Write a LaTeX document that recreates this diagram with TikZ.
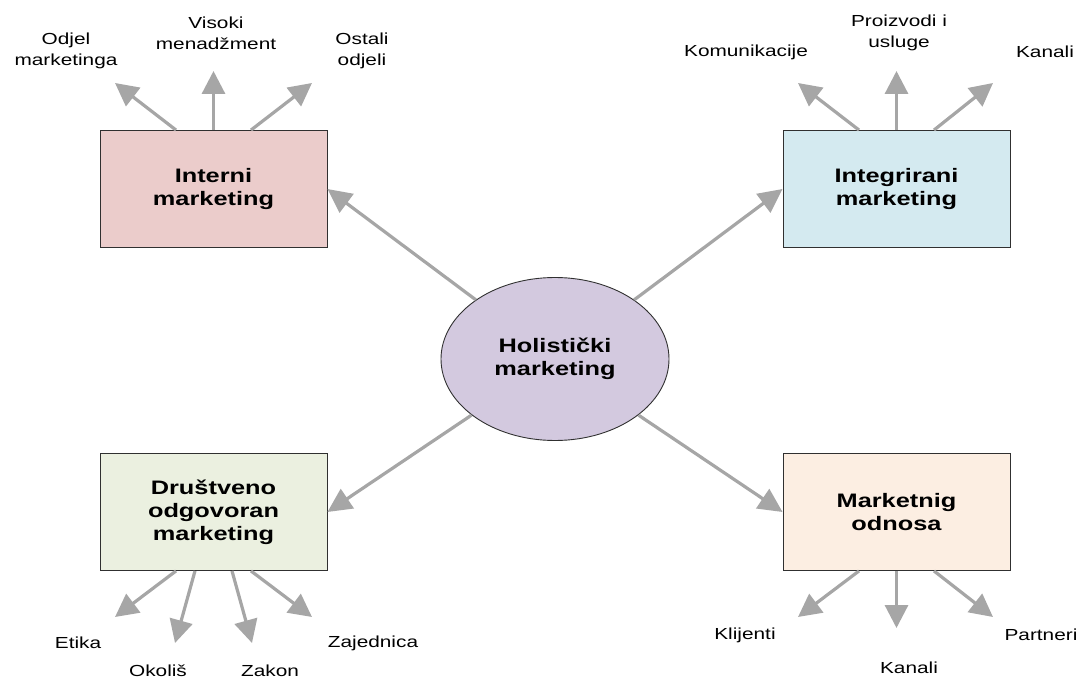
\documentclass[tikz,border=0pt]{standalone}
\usepackage{fontspec}
\setmainfont{Liberation Sans}[FakeStretch=1.3]
\usetikzlibrary{shapes.geometric,arrows.meta}
\definecolor{pinkf}{HTML}{EBCCCB}
\definecolor{bluef}{HTML}{D4EAF0}
\definecolor{greenf}{HTML}{EBF0E0}
\definecolor{peachf}{HTML}{FCEEE2}
\definecolor{purplef}{HTML}{D3C9DF}
\definecolor{arrgray}{HTML}{A6A6A6}
\definecolor{edgegray}{HTML}{303030}
\tikzset{
  mainbox/.style={draw=edgegray, line width=0.9pt, rectangle, minimum width=227pt, minimum height=117pt, inner sep=0pt, align=center, font=\fontsize{19.5}{23}\selectfont\bfseries},
  centre/.style={draw=edgegray, line width=0.9pt, ellipse, minimum width=228pt, minimum height=163pt, inner sep=0pt, align=center, fill=purplef, font=\fontsize{19.5}{23}\selectfont\bfseries},
  lbl/.style={align=center, inner sep=0pt, font=\fontsize{16}{21}\selectfont},
  arr/.style={draw=arrgray, line width=3.2pt, -{Triangle[length=24pt,width=23pt]}},
  sarr/.style={draw=arrgray, line width=3.2pt, -{Triangle[length=23pt,width=23pt]}}
}
\begin{document}
\begin{tikzpicture}[x=1pt,y=-1pt]
\useasboundingbox (0,0) rectangle (1085,679);
% boxes
\node[mainbox, fill=pinkf]  (int)  at (213.5,189) {Interni\\marketing};
\node[mainbox, fill=bluef]  (intg) at (896.5,189) {Integrirani\\marketing};
\node[mainbox, fill=greenf] (drus) at (213.5,512) {Društveno\\odgovoran\\marketing};
\node[mainbox, fill=peachf] (odn)  at (896.5,512) {Marketnig\\odnosa};
\node[centre] (hol) at (555,359) {Holistički\\marketing};
% main arrows
\draw[arr] (hol) -- (int.east);
\draw[arr] (hol) -- (intg.west);
\draw[arr] (hol) -- (drus.east);
\draw[arr] (hol) -- (odn.west);
% tip coordinates
\coordinate (t1) at (115,83);
\coordinate (t2) at (213.5,71);
\coordinate (t3) at (312,83);
\coordinate (t4) at (798,83);
\coordinate (t5) at (896.5,71);
\coordinate (t6) at (993,83);
\coordinate (b1) at (115,617);
\coordinate (b2) at (175,643);
\coordinate (b3) at (252,643);
\coordinate (b4) at (312,617);
\coordinate (b5) at (798,617);
\coordinate (b6) at (896.5,628);
\coordinate (b7) at (993,617);
% small arrows
\draw[sarr] ([xshift=-37.5pt]int.north) -- (t1);
\draw[sarr] (int.north) -- (t2);
\draw[sarr] ([xshift=37.5pt]int.north) -- (t3);
\draw[sarr] ([xshift=-37.5pt]intg.north) -- (t4);
\draw[sarr] (intg.north) -- (t5);
\draw[sarr] ([xshift=37.5pt]intg.north) -- (t6);
\draw[sarr] ([xshift=-37.5pt]drus.south) -- (b1);
\draw[sarr] ([xshift=-18.5pt]drus.south) -- (b2);
\draw[sarr] ([xshift=18.5pt]drus.south) -- (b3);
\draw[sarr] ([xshift=37.5pt]drus.south) -- (b4);
\draw[sarr] ([xshift=-37.5pt]odn.south) -- (b5);
\draw[sarr] (odn.south) -- (b6);
\draw[sarr] ([xshift=37.5pt]odn.south) -- (b7);
% labels
\node[lbl] (l1) at (66,51) {Odjel\\marketinga};
\node[lbl] (l2) at (216,33) {Visoki\\menadžment};
\node[lbl] (l3) at (362,51) {Ostali\\odjeli};
\node[lbl] (l4) at (746,52) {Komunikacije};
\node[lbl] (l5) at (899,33) {Proizvodi i\\usluge};
\node[lbl] (l6) at (1045,52) {Kanali};
\node[lbl] (l7) at (78,643) {Etika};
\node[lbl] (l8) at (158,671) {Okoliš};
\node[lbl] (l9) at (270,671) {Zakon};
\node[lbl] (l10) at (373,643) {Zajednica};
\node[lbl] (l11) at (745,635) {Klijenti};
\node[lbl] (l12) at (909,668) {Kanali};
\node[lbl] (l13) at (1041,635) {Partneri};
\end{tikzpicture}
\end{document}
